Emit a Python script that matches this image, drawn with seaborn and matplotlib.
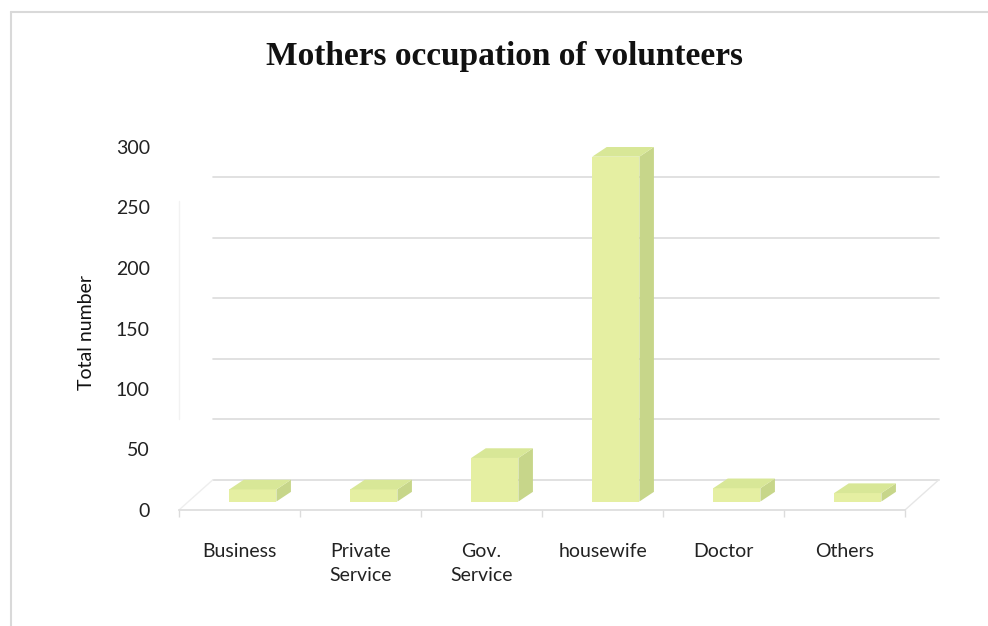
import matplotlib
matplotlib.use("Agg")
import matplotlib.pyplot as plt
import seaborn as sns
import pandas as pd
from matplotlib.patches import Polygon
from matplotlib.lines import Line2D

# Data
occupations = ["Business", "Private\nService", "Gov.\nService", "housewife", "Doctor", "Others"]
totals = [10, 10, 36, 285, 11, 7]
y_ticks = [0, 50, 100, 150, 200, 250, 300]

# Colours for the faces of the pseudo-3D columns
FRONT = "#E5EFA2"
TOP = "#D8E797"
SIDE = "#C7D68A"
GRID = "#DCDCDC"

sns.set_theme(style="white")
plt.rcParams["font.family"] = ["Lato", "DejaVu Sans"]

W, H = 988, 626
fig = plt.figure(figsize=(W / 100, H / 100), dpi=100)
fig.patch.set_facecolor("white")

# Plot area: front floor line spans the category range
ax = fig.add_axes([179 / W, 1 - 510 / H, 726 / W, 363 / H])
ax.set_facecolor("none")

df = pd.DataFrame({"occupation": occupations, "total": totals})
sns.barplot(data=df, x="occupation", y="total", color=FRONT, saturation=1,
            width=0.39, edgecolor="none", ax=ax, zorder=3)

ax.set_xlim(-0.5, 5.5)
ax.set_ylim(0, 300)

# Depth of the back wall and of each column (in data units)
wall_dx, wall_dy = 0.28, 25
bar_dx, bar_dy = 0.12, 8
bar_shift = 0.11
bar_lift = 7  # columns stand in the middle of the floor depth

# Back-wall gridlines
for v in y_ticks[:-1]:
    ax.add_line(Line2D([-0.5 + wall_dx, 5.5 + wall_dx], [v + wall_dy, v + wall_dy],
                       color=GRID, lw=1.2, zorder=1, clip_on=False))
# Faint wall edges
ax.add_line(Line2D([-0.5, -0.5 + wall_dx], [0, wall_dy], color="#EEEEEE", lw=1, zorder=1, clip_on=False))
ax.add_line(Line2D([5.5, 5.5 + wall_dx], [0, wall_dy], color="#E6E6E6", lw=1, zorder=1, clip_on=False))
ax.add_line(Line2D([-0.5] * 2, [75, 255], color="#F2F2F2", lw=1, zorder=1, clip_on=False))

# Top and side faces of each column, derived from the drawn bars
for p in list(ax.patches):
    p.set_x(p.get_x() + bar_shift)
    p.set_y(bar_lift)
    x, w, h = p.get_x(), p.get_width(), p.get_height()
    y0, y1 = bar_lift, bar_lift + h
    top = Polygon([(x, y1), (x + w, y1), (x + w + bar_dx, y1 + bar_dy), (x + bar_dx, y1 + bar_dy)],
                  closed=True, facecolor=TOP, edgecolor="none", zorder=3, clip_on=False)
    side = Polygon([(x + w, y0), (x + w + bar_dx, y0 + bar_dy), (x + w + bar_dx, y1 + bar_dy), (x + w, y1)],
                   closed=True, facecolor=SIDE, edgecolor="none", zorder=3, clip_on=False)
    ax.add_patch(side)
    ax.add_patch(top)

# Axes styling
for s in ["top", "right", "left"]:
    ax.spines[s].set_visible(False)
ax.spines["bottom"].set_color(GRID)
ax.spines["bottom"].set_linewidth(1.2)

ax.set_yticks(y_ticks)
ax.set_yticklabels([str(v) for v in y_ticks])
ax.tick_params(axis="y", length=0, pad=21, labelsize=14, labelcolor="#222222")

ax.set_xticks(range(len(occupations)))
ax.set_xticklabels(occupations, linespacing=1.45)
ax.set_xticks([i - 0.5 for i in range(len(occupations) + 1)], minor=True)
ax.tick_params(axis="x", which="major", length=0, pad=24, labelsize=14, labelcolor="#222222")
ax.tick_params(axis="x", which="minor", length=5, width=1, color=GRID, bottom=True)
ax.set_xlabel("")
ax.set_ylabel("")

fig.text(86 / W, 1 - 332 / H, "Total number", rotation=90, ha="center", va="center",
         fontsize=14, color="#111111")

fig.text(504 / W, 1 - 57 / H, "Mothers occupation of volunteers", ha="center", va="center",
         fontsize=24, fontweight="bold", family=["Liberation Serif", "DejaVu Serif"], color="#111111")

# Chart-area border (top and left edges)
fig.add_artist(Line2D([11 / W, 1.0], [1 - 12 / H] * 2, transform=fig.transFigure,
                      color="#D9D9D9", lw=1.5))
fig.add_artist(Line2D([11 / W] * 2, [0.0, 1 - 12 / H], transform=fig.transFigure,
                      color="#D9D9D9", lw=1.5))

fig.savefig("out.png", dpi=100, facecolor="white")
